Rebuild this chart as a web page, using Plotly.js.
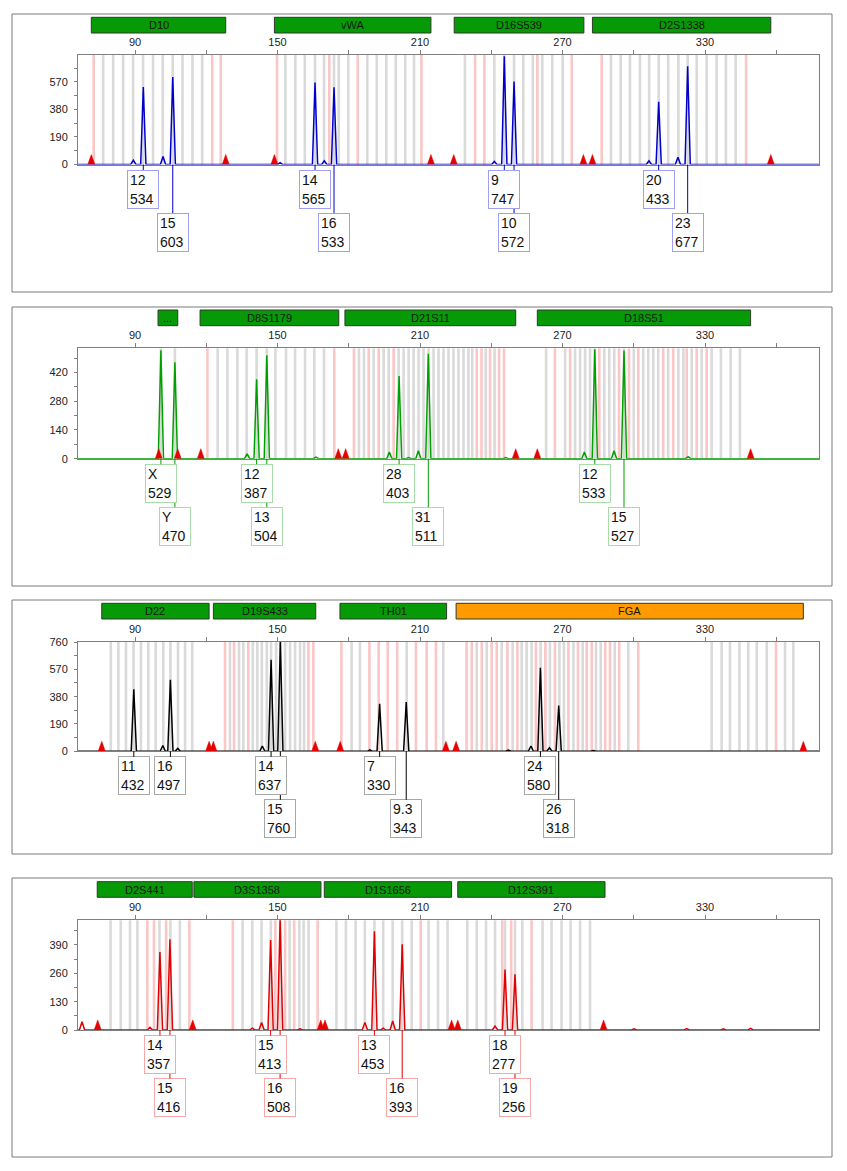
<!DOCTYPE html>
<html><head><meta charset="utf-8">
<script src="https://cdn.plot.ly/plotly-3.0.1.min.js"></script>
<style>html,body{margin:0;padding:0;background:#fff}#chart{width:847px;height:1171px}</style>
</head><body><div id="chart"></div>
<script>
// ---------------- data ----------------
const xTickLabels = [90, 150, 210, 270, 330];
const xMinorTicks = [120, 180, 240, 300, 360];

// Panel 1 (blue dye)
const p1Loci = ['D10', 'vWA', 'D16S539', 'D2S1338'];
const p1LociStart = [71.6, 148.7, 224.4, 282.6];
const p1LociEnd = [128.2, 214.6, 279.0, 357.7];
const p1LociStatus = ['ok', 'ok', 'ok', 'ok'];
const p1PeakPos = [89.3, 93.5, 101.8, 105.9, 151.1, 165.8, 169.7, 173.8, 241.3, 245.5, 249.6, 306.4, 310.5, 318.6, 322.7];
const p1PeakHeight = [30, 534, 55, 603, 12, 565, 25, 533, 22, 747, 572, 25, 433, 50, 677];
const p1PeakLabel = [null, '12', null, '15', null, '14', null, '16', null, '9', '10', null, '20', null, '23'];
const p1PeakRow = [0, 1, 0, 2, 0, 1, 0, 2, 0, 1, 2, 0, 1, 0, 2];
const p1Ladder = [71.6, 128.2, 148.7, 214.6, 224.2, 278.8, 282.6, 357.7];
const p1BinsGray = [76.6, 80.8, 85.0, 89.2, 93.4, 97.6, 101.7, 105.9, 110.0, 114.2, 118.3,
  153.3, 157.5, 161.5, 165.8, 169.6, 173.8, 175.8, 179.8, 187.8, 191.8, 195.8, 199.8, 203.8, 207.5,
  228.9, 241.3, 245.5, 249.6, 253.5, 257.5, 261.5, 265.7, 270.1,
  290.4, 294.5, 298.4, 302.6, 306.5, 310.5, 314.5, 318.8, 322.7, 326.5, 330.7, 334.9, 338.8, 342.9];
const p1BinsPink = [72.6, 122.5, 126.1, 149.8, 171.8, 183.8, 210.6, 233.2, 237.1, 259.4, 273.9, 286.5, 347.3];

// Panel 2 (green dye)
const p2Loci = ['...', 'D8S1179', 'D21S11', 'D18S51'];
const p2LociStart = [99.7, 117.4, 178.4, 259.4];
const p2LociEnd = [108.0, 175.8, 250.3, 349.2];
const p2LociStatus = ['ok', 'ok', 'ok', 'ok'];
const p2PeakPos = [100.9, 106.8, 137.2, 141.2, 145.5, 166.2, 197.1, 201.2, 205.2, 209.3, 213.5, 246.1, 279.2, 283.6, 291.7, 295.9, 322.9];
const p2PeakHeight = [529, 470, 23, 387, 504, 8, 32, 403, 5, 39, 511, 5, 32, 533, 39, 527, 10];
const p2PeakLabel = ['X', 'Y', null, '12', '13', null, null, '28', null, null, '31', null, null, '12', null, '15', null];
const p2PeakRow = [1, 2, 0, 1, 2, 0, 0, 1, 0, 0, 2, 0, 0, 1, 0, 2, 0];
const p2Ladder = [100.0, 108.0, 117.7, 175.6, 178.7, 250.3, 259.4, 349.2];
const p2BinsGray = [100.9, 106.8, 124.8, 128.9, 133.1, 137.0, 141.2, 145.5, 149.1, 153.6, 157.4, 161.6, 165.5, 169.6,
  184.3, 186.4, 190.5, 194.7, 196.8, 201.0, 203.1, 205.2, 207.3, 209.4, 211.5, 213.6, 215.7, 217.8, 219.9, 222.0,
  224.1, 226.2, 228.3, 230.4, 232.0, 237.7, 241.4,
  263.1, 271.1, 275.3, 277.4, 279.5, 281.6, 283.5, 287.6, 289.7, 291.8, 295.9, 300.0, 304.0, 306.1, 308.2, 310.3,
  314.5, 318.8, 320.9, 324.4, 328.6, 332.8, 336.7, 340.8, 344.7];
const p2BinsPink = [120.5, 173.9, 182.2, 188.4, 192.6, 198.9, 233.9, 235.9, 239.5, 243.3, 245.4,
  266.8, 273.2, 285.5, 293.8, 298.0, 301.9, 312.4, 316.6, 322.3, 326.5, 330.7];

// Panel 3 (black / yellow dye)
const p3Loci = ['D22', 'D19S433', 'TH01', 'FGA'];
const p3LociStart = [76.0, 123.0, 176.3, 225.2];
const p3LociEnd = [121.2, 166.1, 221.2, 371.4];
const p3LociStatus = ['ok', 'ok', 'ok', 'warn'];
const p3PeakPos = [89.5, 101.7, 104.9, 108.0, 143.6, 147.3, 151.2, 188.9, 193.0, 204.2, 247.2, 256.7, 260.7, 264.5, 268.4, 283.0];
const p3PeakHeight = [432, 40, 497, 20, 37, 637, 760, 10, 330, 343, 8, 37, 580, 25, 318, 5];
const p3PeakLabel = ['11', null, '16', null, null, '14', '15', null, '7', '9.3', null, null, '24', null, '26', null];
const p3PeakRow = [1, 0, 1, 0, 0, 1, 2, 0, 1, 2, 0, 0, 1, 0, 2, 0];
const p3Ladder = [76.0, 121.2, 123.0, 165.9, 176.4, 220.9, 225.2, 371.4];
const p3BinsGray = [79.8, 83.0, 86.2, 89.4, 92.5, 95.6, 98.7, 101.9, 104.9, 108.1, 111.1, 114.1,
  130.0, 133.8, 135.6, 139.6, 141.5, 143.4, 145.5, 147.3, 149.4, 151.2, 153.2, 155.3, 157.4, 159.5, 161.2,
  181.2, 184.7, 204.4, 219.8,
  233.9, 238.1, 244.4, 249.0, 252.8, 254.9, 257.0, 260.8, 264.7, 268.7, 270.6, 274.6, 278.5, 284.1, 286.1, 292.0, 297.7,
  332.8, 337.0, 340.5, 344.5, 348.2, 351.8, 356.0, 363.7, 367.2];
const p3BinsPink = [127.9, 131.7, 137.7, 163.0, 165.1,
  176.9, 188.7, 192.6, 196.4, 200.4, 208.3, 212.8, 216.7,
  229.6, 231.8, 236.0, 240.2, 242.3, 246.8, 251.0, 258.8, 262.8, 266.8, 272.5, 276.5, 280.2, 282.3, 288.0, 290.0, 293.9, 301.9,
  359.9];

// Panel 4 (red dye)
const p4Loci = ['D2S441', 'D3S1358', 'D1S1656', 'D12S391'];
const p4LociStart = [74.1, 114.8, 169.7, 225.9];
const p4LociEnd = [114.1, 168.3, 223.3, 287.9];
const p4LociStatus = ['ok', 'ok', 'ok', 'ok'];
const p4PeakPos = [67.7, 96.3, 100.5, 104.7, 139.4, 143.3, 147.1, 151.1, 159.5, 186.8, 190.8, 194.5, 198.5, 202.5, 241.6, 245.8, 250.0, 300.1, 322.3, 337.7, 349.2];
const p4PeakHeight = [38, 12, 357, 416, 8, 34, 413, 508, 5, 35, 453, 8, 41, 393, 18, 277, 256, 5, 6, 5, 7];
const p4PeakLabel = [null, null, '14', '15', null, null, '15', '16', null, null, '13', null, null, '16', null, '18', '19', null, null, null, null];
const p4PeakRow = [0, 0, 1, 2, 0, 0, 1, 2, 0, 0, 1, 0, 0, 2, 0, 1, 2, 0, 0, 0, 0];
const p4Ladder = [74.3, 114.3, 168.2, 170.0, 223.3, 225.9, 287.3];
const p4BinsGray = [79.7, 84.0, 87.9, 91.0, 100.3, 104.9, 108.9,
  135.3, 139.4, 143.3, 147.2, 151.2, 155.1, 159.2, 161.0, 163.1,
  174.8, 178.8, 182.9, 186.8, 190.8, 194.5, 198.5, 202.5, 206.5, 213.6, 217.6, 221.6,
  229.9, 233.9, 237.8, 241.6, 245.8, 250.0, 253.1, 261.6, 265.4, 269.6, 273.4, 277.4, 281.6];
const p4BinsPink = [95.2, 98.0, 103.1, 112.9, 131.2, 149.1, 153.2, 157.0, 166.9, 210.3, 244.6, 248.4, 257.0];

// ---------------- layout / styling ----------------
const W = 847, H = 1171;
const X_RANGE = [66, 378];
const PX_LEFT = 78, PX_RIGHT = 819;
const FRAME_LEFT = 12, FRAME_RIGHT = 832;
const P = py => 1 - py / H;

const panels = [
  {loci: p1Loci, start: p1LociStart, end: p1LociEnd, status: p1LociStatus, pos: p1PeakPos, h: p1PeakHeight, lab: p1PeakLabel, row: p1PeakRow, ladder: p1Ladder, gray: p1BinsGray, pink: p1BinsPink,
   yTop: 755, yStep: 190, color: '#0000cc', box: '#a0a0f0', pxTop: 55, pxBottom: 164.5, frameTop: 14, frameBottom: 292, barTop: 17.3, barBottom: 33},
  {loci: p2Loci, start: p2LociStart, end: p2LociEnd, status: p2LociStatus, pos: p2PeakPos, h: p2PeakHeight, lab: p2PeakLabel, row: p2PeakRow, ladder: p2Ladder, gray: p2BinsGray, pink: p2BinsPink,
   yTop: 538, yStep: 140, color: '#00a000', box: '#a8dca8', pxTop: 348.3, pxBottom: 458.7, frameTop: 307, frameBottom: 586, barTop: 310, barBottom: 325.7},
  {loci: p3Loci, start: p3LociStart, end: p3LociEnd, status: p3LociStatus, pos: p3PeakPos, h: p3PeakHeight, lab: p3PeakLabel, row: p3PeakRow, ladder: p3Ladder, gray: p3BinsGray, pink: p3BinsPink,
   yTop: 760, yStep: 190, color: '#000000', box: '#a8a8a8', pxTop: 642, pxBottom: 751.3, frameTop: 600, frameBottom: 854, barTop: 603.3, barBottom: 619},
  {loci: p4Loci, start: p4LociStart, end: p4LociEnd, status: p4LociStatus, pos: p4PeakPos, h: p4PeakHeight, lab: p4PeakLabel, row: p4PeakRow, ladder: p4Ladder, gray: p4BinsGray, pink: p4BinsPink,
   yTop: 503, yStep: 130, color: '#e00000', box: '#f4a8a8', pxTop: 920.3, pxBottom: 1030, frameTop: 878, frameBottom: 1157, barTop: 881.7, barBottom: 897.3}
];

const FONT = 'Liberation Sans, Arial, sans-serif';
const traces = [];
const shapes = [];
const annotations = [];
const rowTwo = [], rowOne = [];
const layout = {
  width: W, height: H, autosize: false,
  margin: {l: 0, r: 0, t: 0, b: 0},
  paper_bgcolor: '#ffffff', plot_bgcolor: 'rgba(0,0,0,0)',
  showlegend: false,
  font: {family: FONT, size: 11, color: '#222'}
};

const PEAK_HALF = 1.1;   // bp, drawing width of a peak glyph
const TRI_HALF = 1.5;    // bp, half width of size-standard marker
const TRI_PX = 10;       // px, marker height

panels.forEach((p, i) => {
  const s = i === 0 ? '' : String(i + 1);
  const xa = 'x' + s, ya = 'y' + s;
  layout['xaxis' + s] = {
    domain: [PX_LEFT / W, PX_RIGHT / W], anchor: ya, range: X_RANGE, side: 'top',
    tickmode: 'array', tickvals: xTickLabels, ticks: 'outside', ticklen: 4, tickcolor: '#808080',
    minor: {tickmode: 'array', tickvals: xMinorTicks, ticks: 'outside', ticklen: 4, tickcolor: '#808080'},
    showline: true, mirror: true, linecolor: '#808080', linewidth: 1,
    showgrid: false, zeroline: false, fixedrange: true,
    tickfont: {family: FONT, size: 11, color: '#222'}
  };
  layout['yaxis' + s] = {
    domain: [P(p.pxBottom), P(p.pxTop)], anchor: xa, range: [0, p.yTop],
    tick0: 0, dtick: p.yStep, ticks: 'outside', ticklen: 3, tickcolor: '#808080',
    minor: {dtick: p.yStep / 2, ticks: 'outside', ticklen: 3, tickcolor: '#808080'},
    showline: true, mirror: true, linecolor: '#808080', linewidth: 1,
    showgrid: false, zeroline: false, fixedrange: true, ticklabelstandoff: 4,
    tickfont: {family: FONT, size: 11, color: '#222'}
  };

  // outer frame
  shapes.push({type: 'rect', xref: 'paper', yref: 'paper',
    x0: FRAME_LEFT / W, x1: FRAME_RIGHT / W, y0: P(p.frameBottom), y1: P(p.frameTop),
    line: {color: '#7a7a7a', width: 1}, fillcolor: 'rgba(0,0,0,0)', layer: 'below'});

  // bins
  p.gray.forEach(b => shapes.push({type: 'line', xref: xa, yref: ya + ' domain', x0: b, x1: b, y0: 0, y1: 1,
    line: {color: '#dadada', width: 2.6}, layer: 'below'}));
  p.pink.forEach(b => shapes.push({type: 'line', xref: xa, yref: ya + ' domain', x0: b, x1: b, y0: 0, y1: 1,
    line: {color: '#fbc6c6', width: 2.6}, layer: 'below'}));

  // locus bars
  p.loci.forEach((name, k) => {
    shapes.push({type: 'rect', xref: xa, yref: 'paper', x0: p.start[k], x1: p.end[k],
      y0: P(p.barBottom), y1: P(p.barTop),
      fillcolor: p.status[k] === 'warn' ? '#ff9a00' : '#079a07', line: {color: '#2b3b2b', width: 1}});
    annotations.push({xref: xa, yref: 'paper', x: (p.start[k] + p.end[k]) / 2, y: P((p.barTop + p.barBottom) / 2),
      xanchor: 'center', yanchor: 'middle',
      text: name, showarrow: false, font: {family: FONT, size: 11, color: '#151515'}});
  });

  // peaks
  const px = [X_RANGE[0]], py = [0];
  p.pos.forEach((x, k) => {
    px.push(x - PEAK_HALF, x, x + PEAK_HALF);
    py.push(0, p.h[k], 0);
  });
  px.push(X_RANGE[1]); py.push(0);
  traces.push({type: 'scatter', mode: 'lines', x: px, y: py, xaxis: xa, yaxis: ya,
    line: {color: p.color, width: 1.5}, hoverinfo: 'skip'});

  // size-standard markers
  const triH = p.yTop * TRI_PX / (p.pxBottom - p.pxTop);
  const tx = [], ty = [];
  p.ladder.forEach(x => { tx.push(x - TRI_HALF, x, x + TRI_HALF, null); ty.push(0, triH, 0, null); });
  traces.push({type: 'scatter', mode: 'lines', x: tx, y: ty, xaxis: xa, yaxis: ya,
    fill: 'toself', fillcolor: '#e60000', line: {color: '#e60000', width: 0.5}, hoverinfo: 'skip'});

  // allele labels
  p.pos.forEach((x, k) => {
    if (!p.lab[k]) return;
    const ann = {xref: xa, yref: ya, x: x, y: 0, ax: 0, ay: p.row[k] === 1 ? 24.5 : 67.5,
      showarrow: true, arrowhead: 0, arrowwidth: 1, arrowcolor: p.color, standoff: 0,
      text: p.lab[k] + '<br>' + p.h[k], align: 'left', valign: 'middle',
      width: 26, height: 33, borderpad: 2, borderwidth: 1, bordercolor: p.box, bgcolor: '#ffffff',
      font: {family: FONT, size: 14, color: '#111'}};
    (p.row[k] === 1 ? rowOne : rowTwo).push(ann);
  });
});

layout.shapes = shapes;
layout.annotations = annotations.concat(rowTwo, rowOne);

Plotly.newPlot('chart', traces, layout, {staticPlot: true, displayModeBar: false});
</script>
</body></html>
